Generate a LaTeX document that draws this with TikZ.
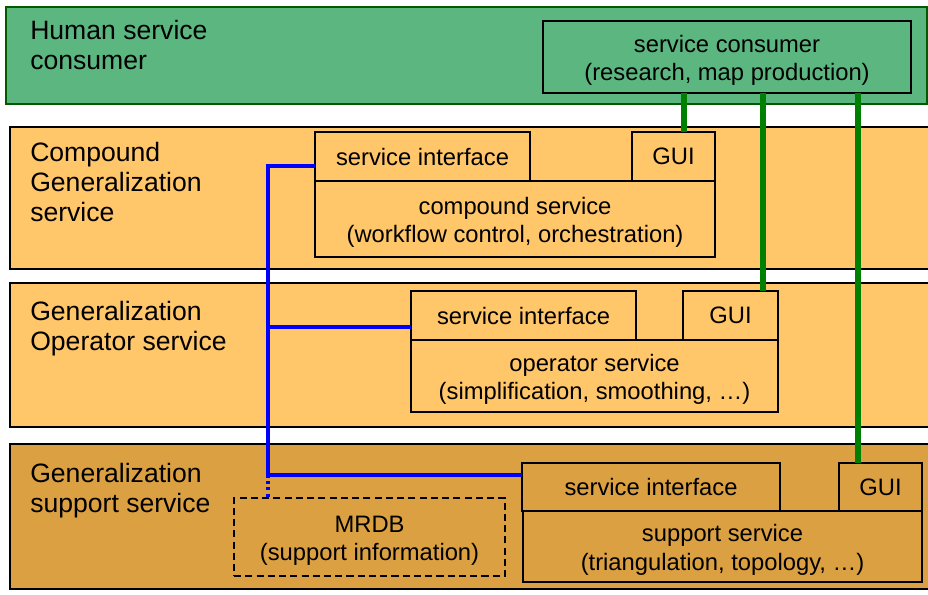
\documentclass[tikz,border=0pt]{standalone}
\usepackage{fontspec}
\setmainfont{Liberation Sans}
\usepackage{tikz}
\usepackage{xcolor}
\usetikzlibrary{calc,positioning}

\definecolor{humangreen}{RGB}{92,182,128}
\definecolor{lightorange}{RGB}{255,198,106}
\definecolor{darkorange}{RGB}{219,160,65}
\definecolor{linkgreen}{RGB}{0,128,0}

\newcommand{\firstline}{\rule{0pt}{17pt}}

\tikzset{
    layer/.style={draw=black, line width=0.9pt},
    box/.style={draw=black, line width=1pt, inner sep=0pt, outer sep=0pt,
        anchor=north west, align=center, font=\fontsize{16.9}{20}\selectfont},
    lbl/.style={anchor=west, inner sep=0pt, align=left,
        font=\fontsize{18.9}{21.5}\selectfont},
    guilink/.style={draw=linkgreen, line width=3.6pt},
    buslink/.style={draw=blue, line width=2.2pt},
}

\begin{document}
\begin{tikzpicture}[x=0.025cm, y=-0.025cm]
    \useasboundingbox (0,0) rectangle (928,594);

    % layers
    \draw[layer, fill=humangreen, draw=linkgreen!70!black](6, 7) rectangle (927, 104);
        \node[lbl] (lhuman) at (30, 45){Human service\\consumer};
    \draw[layer, fill=lightorange](10, 127) rectangle (935, 269);
        \node[lbl] (lcomp) at (30, 182){Compound\\Generalization\\service};
    \draw[layer, fill=lightorange](10, 283) rectangle (935, 427);
        \node[lbl] (lop) at (30, 329){Generalization\\Operator service};
    \draw[layer, fill=darkorange](10, 444) rectangle (935, 589);
        \node[lbl] (lsup) at (30, 491){Generalization\\support service};

    % boxes
    \node[box, fill=humangreen, minimum width=9.2cm, minimum height=1.8cm] (cons) at (543, 21)
        {\firstline service consumer\\(research, map production)};

    \node[box, fill=lightorange, minimum width=5.375cm, minimum height=1.225cm] (csi) at (315, 132){service interface};
    \node[box, fill=lightorange, minimum width=2.075cm, minimum height=1.225cm] (cgui) at (632, 132){GUI};
    \node[box, fill=lightorange, minimum width=10cm, minimum height=1.9cm] (csvc) at (315, 181)
        {\firstline compound service\\(workflow control, orchestration)};

    \node[box, fill=lightorange, minimum width=5.625cm, minimum height=1.225cm] (osi) at (411, 291){service interface};
    \node[box, fill=lightorange, minimum width=2.375cm, minimum height=1.225cm] (ogui) at (683, 291){GUI};
    \node[box, fill=lightorange, minimum width=9.175cm, minimum height=1.8cm] (osvc) at (411, 340)
        {\firstline operator service\\(simplification, smoothing, \dots)};

    \node[box, fill=darkorange, minimum width=6.45cm, minimum height=1.2cm] (ssi) at (522, 463){service interface};
    \node[box, fill=darkorange, minimum width=2.075cm, minimum height=1.2cm] (sgui) at (839, 463){GUI};
    \node[box, fill=darkorange, minimum width=9.975cm, minimum height=1.775cm] (ssvc) at (523, 511)
        {\firstline support service\\(triangulation, topology, \dots)};

    \node[box, dash pattern=on 5pt off 3pt, minimum width=6.775cm, minimum height=1.95cm] (mrdb) at (234, 498)
        {\firstline MRDB\\(support information)};

    % GUI links
    \coordinate (g1) at (684, 0);
    \coordinate (g2) at (763, 0);
    \coordinate (g3) at (858, 0);
    \draw[guilink](cons.south -| g1) to (cgui.north -| g1);
    \draw[guilink](cons.south -| g2) to (ogui.north -| g2);
    \draw[guilink](cons.south -| g3) to (sgui.north -| g3);

    % service bus
    \coordinate (b1) at (268, 166);
    \coordinate (b2) at (268, 327);
    \coordinate (b3) at (268, 475);
    \draw[buslink](csi.west |- b1) -- (b1) -- (b3) -- (ssi.west |- b3);
    \draw[buslink](b2) -- (osi.west |- b2);
    \draw[buslink, dash pattern=on 2.2pt off 2.2pt](b3) -- (mrdb.north -| b3);

\end{tikzpicture}
\end{document}
